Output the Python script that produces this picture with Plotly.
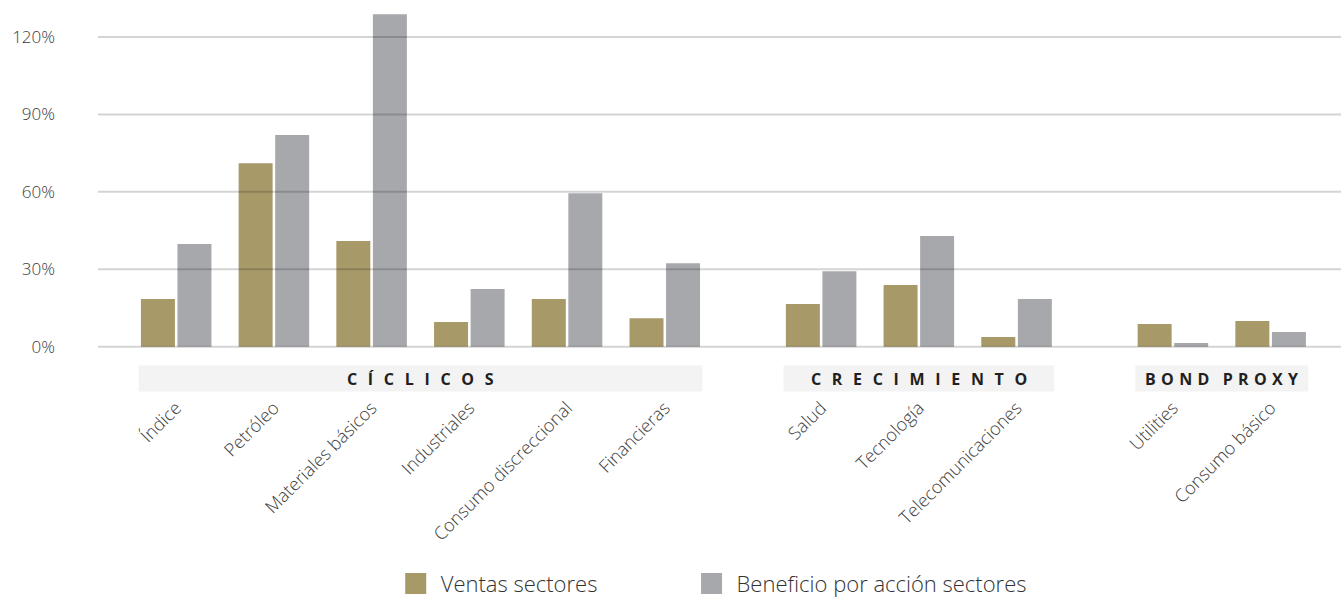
import plotly.graph_objects as go

# Sector groups and their members
group_names = ["CÍCLICOS", "CRECIMIENTO", "BOND PROXY"]
ciclicos = ["Índice", "Petróleo", "Materiales básicos", "Industriales",
            "Consumo discreccional", "Financieras"]
crecimiento = ["Salud", "Tecnología", "Telecomunicaciones"]
bond_proxy = ["Utilities", "Consumo básico"]

# Values in %
ventas = [18.5, 71.1, 41.0, 9.6, 18.5, 11.1,
          16.6, 23.9, 3.8,
          8.8, 10.0]
bpa = [39.8, 82.0, 128.8, 22.4, 59.5, 32.4,
       29.3, 42.9, 18.5,
       1.5, 5.7]

y_ticks = [0, 30, 60, 90, 120]
y_tick_text = ["0%", "30%", "60%", "90%", "120%"]

series_names = ["Ventas sectores", "Beneficio por acción sectores"]

COLOR_VENTAS = "#A89968"
COLOR_BPA = "#A7A8AC"
FONT = "Open Sans"


def spaced(word, sep, word_sep):
    """Letter-spaced heading text."""
    return word_sep.join(sep.join(w) for w in word.split(" "))


group_labels = [spaced(group_names[0], "\u2002\u2006", ""),
                spaced(group_names[1], "\u2002\u2006", ""),
                spaced(group_names[2], "\u2004", "\u2004\u2002")]

# Category positions on a numeric axis, with a wider gap between groups
groups = [ciclicos, crecimiento, bond_proxy]
GROUP_GAP = 0.6
categories, positions, spans = [], [], []
p = 0.0
for members in groups:
    start = p
    for name in members:
        categories.append(name)
        positions.append(p)
        p += 1
    spans.append((start, p - 1))
    p += GROUP_GAP

fig = go.Figure()
fig.add_trace(go.Bar(x=positions, y=ventas, name=series_names[0],
                     marker=dict(color=COLOR_VENTAS, line_width=0),
                     showlegend=False))
fig.add_trace(go.Bar(x=positions, y=bpa, name=series_names[1],
                     marker=dict(color=COLOR_BPA, line_width=0),
                     showlegend=False))

# Legend entries with larger square swatches, each in its own legend box
for i, (name, color) in enumerate(zip(series_names, [COLOR_VENTAS, COLOR_BPA])):
    fig.add_trace(go.Scatter(x=[None], y=[None], mode="markers", name=name,
                             legend="legend" if i == 0 else "legend2",
                             marker=dict(symbol="square", size=16, color=color,
                                         line=dict(color=color, width=6))))

shapes = []
# Horizontal gridlines drawn over the bars
for v in y_ticks:
    shapes.append(dict(type="line", xref="paper", x0=0, x1=1, yref="y", y0=v, y1=v,
                       line=dict(color="rgba(0,0,0,0.17)", width=2), layer="above"))

annotations = []
HALF = 0.385
BAND_TOP, BAND_BOTTOM = -0.0413, -0.1154
for (a, b), label in zip(spans, group_labels):
    shapes.append(dict(type="rect", xref="x", x0=a - HALF, x1=b + HALF,
                       yref="paper", y0=BAND_BOTTOM, y1=BAND_TOP,
                       fillcolor="#F3F3F3", line_width=0, layer="below"))
    annotations.append(dict(xref="x", x=(a + b) / 2, yref="paper",
                            y=(BAND_TOP + BAND_BOTTOM) / 2, yanchor="middle",
                            text=f"<b>{label}</b>", showarrow=False,
                            font=dict(family=FONT, size=16, color="#231F20")))

legend_style = dict(orientation="h", y=-0.663, yanchor="middle", xanchor="left",
                    font=dict(family=FONT, size=22, color="#333333", weight=300),
                    itemwidth=40, itemclick=False, bgcolor="rgba(0,0,0,0)")

fig.update_layout(
    width=1341, height=597,
    margin=dict(l=98, r=0, t=0, b=246, autoexpand=False),
    paper_bgcolor="white", plot_bgcolor="white",
    barmode="group", bargap=0.252, bargroupgap=0.07,
    font=dict(family=FONT, color="#3A3A3A"),
    shapes=shapes, annotations=annotations,
    legend=dict(x=0.2355, **legend_style),
    legend2=dict(x=0.4735, **legend_style),
    xaxis=dict(range=[-0.80, 11.92], tickmode="array", tickvals=positions,
               ticktext=categories, tickangle=-45, showgrid=False, zeroline=False,
               showline=False, ticks="", ticklabelstandoff=42, automargin=False,
               tickfont=dict(family=FONT, size=18, color="#404040", weight=300)),
    yaxis=dict(range=[-1.63, 134.3], tickmode="array", tickvals=y_ticks,
               ticktext=y_tick_text, showgrid=False, zeroline=False, showline=False,
               ticks="", ticklabelstandoff=42, automargin=False,
               tickfont=dict(family=FONT, size=17, color="#3A3A3A", weight=300)),
)

fig.write_html("out.html")
